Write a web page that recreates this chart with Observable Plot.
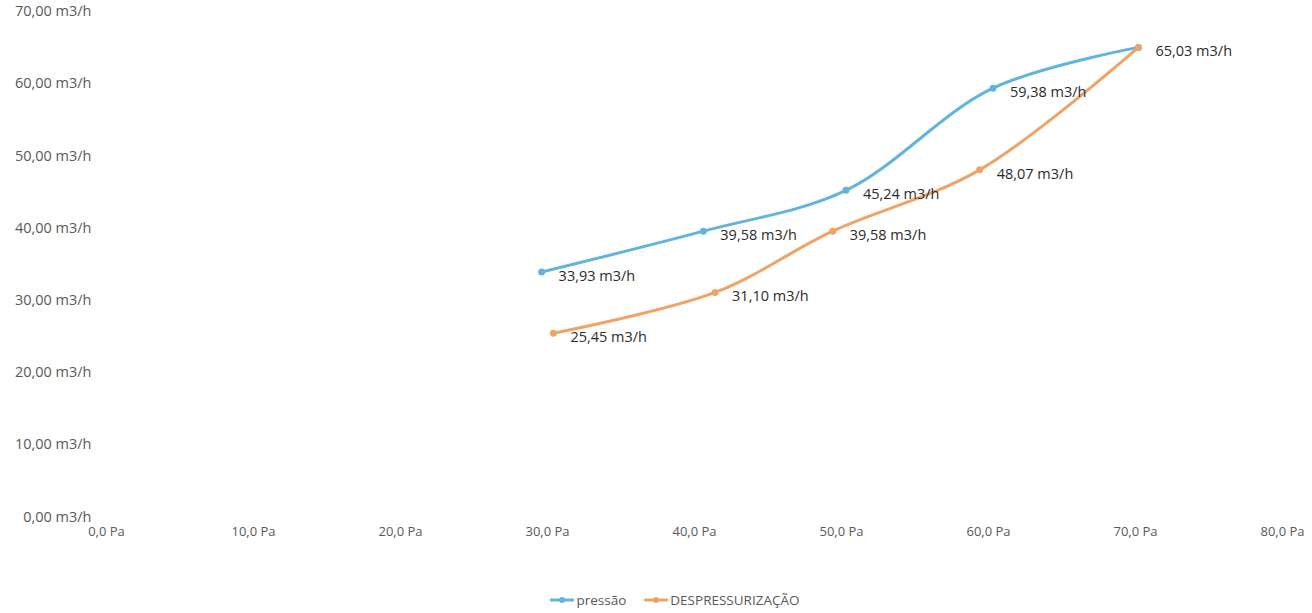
<!DOCTYPE html>
<html>
<head>
<meta charset="utf-8">
<script src="https://cdn.jsdelivr.net/npm/d3@7"></script>
<script src="https://cdn.jsdelivr.net/npm/@observablehq/plot@0.6"></script>
<style>
  html, body { margin: 0; padding: 0; background: #ffffff; }
  #chart { width: 1312px; }
  #chart svg g[aria-label="y-axis tick label"] text { font-size: 14.5px; }
  .legend { display: flex; justify-content: center; gap: 18px; font-family: "Open Sans", "Liberation Sans", sans-serif; font-size: 13.5px; color: #595959; margin-top: 11px; margin-left: 38px; }
  .legend .item { display: flex; align-items: center; gap: 2px; }
  .legend svg { display: block; }
</style>
</head>
<body>
<div id="chart"></div>
<script>
// Series names
const seriesNames = ["pressão", "DESPRESSURIZAÇÃO"];
// Pressure (Pa), per series
const pressaoX = [29.6, 40.6, 50.3, 60.3, 70.2];
const pressaoY = [33.93, 39.58, 45.24, 59.38, 65.03];
const despX = [30.4, 41.4, 49.4, 59.4, 70.2];
const despY = [25.45, 31.10, 39.58, 48.07, 65.03];
// Axis ticks
const xTicks = [0, 10, 20, 30, 40, 50, 60, 70, 80];
const yTicks = [0, 10, 20, 30, 40, 50, 60, 70];

const colors = ["#62b4dc", "#eea466"];

const data = [
  ...pressaoX.map((x, i) => ({series: seriesNames[0], x, y: pressaoY[i]})),
  ...despX.map((x, i) => ({series: seriesNames[1], x, y: despY[i]}))
];

const fmtY = d => d.toFixed(2).replace(".", ",") + " m3/h";
const fmtX = d => d.toFixed(1).replace(".", ",") + " Pa";

// one label per distinct point (the two series end on the same point)
const seen = new Set();
const labelData = data.filter(d => {
  const k = d.x + "|" + d.y;
  if (seen.has(k)) return false;
  seen.add(k);
  return true;
});

const plot = Plot.plot({
  width: 1312,
  height: 580,
  marginTop: 11,
  marginBottom: 63.5,
  marginLeft: 106,
  marginRight: 30,
  style: {fontFamily: "'Open Sans', 'Liberation Sans', sans-serif", fontSize: "13px", color: "#595959", background: "#ffffff"},
  x: {domain: [0, 80], ticks: xTicks, tickFormat: fmtX, tickSize: 0, tickPadding: 10, label: null},
  y: {domain: [0, 70], ticks: yTicks, tickFormat: fmtY, tickSize: 0, tickPadding: 15, label: null},
  color: {domain: seriesNames, range: colors},
  marks: [
    Plot.line(data, {x: "x", y: "y", z: "series", stroke: "series", strokeWidth: 3, curve: "catmull-rom"}),
    Plot.dot(data, {x: "x", y: "y", fill: "series", r: 3.5}),
    Plot.text(labelData, {x: "x", y: "y", text: d => fmtY(d.y), textAnchor: "start", dx: 17, dy: 4, fill: "#2b2b2b", fontSize: 14.5})
  ]
});
document.getElementById("chart").appendChild(plot);

const legend = document.createElement("div");
legend.className = "legend";
seriesNames.forEach((name, i) => {
  const item = document.createElement("div");
  item.className = "item";
  item.innerHTML = `<svg width="24" height="10"><line x1="0" y1="5" x2="24" y2="5" stroke="${colors[i]}" stroke-width="3"/><circle cx="12" cy="5" r="3" fill="${colors[i]}"/></svg><span>${name}</span>`;
  legend.appendChild(item);
});
document.body.appendChild(legend);
</script>
</body>
</html>
